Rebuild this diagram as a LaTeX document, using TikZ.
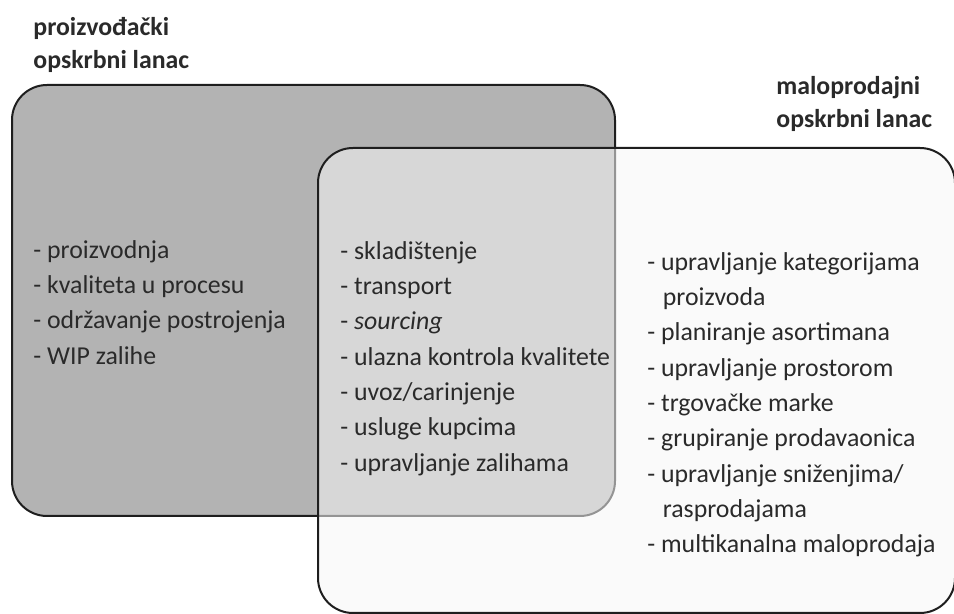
\documentclass[tikz,border=0pt]{standalone}
\usepackage{fontspec}
\setmainfont{Carlito}
\usetikzlibrary{positioning}

\definecolor{prodGray}{HTML}{B3B3B3}
\definecolor{retailGray}{HTML}{F6F6F6}
\definecolor{edgeGray}{HTML}{1E1E1E}
\definecolor{textGray}{HTML}{2A2A2A}

\begin{document}
\begin{tikzpicture}[
    x=0.5pt, y=-0.5pt,
    font=\fontsize{12.9}{17.65}\selectfont,
    chain/.style={
        draw=edgeGray,
        line width=1pt,
        rounded corners=17.5pt
    },
    production/.style={chain, fill=prodGray},
    retail/.style={chain, fill=retailGray, fill opacity=0.55},
    items/.style={
        text=textGray,
        align=left,
        anchor=north west,
        inner sep=0pt,
        execute at begin node={\rule{0pt}{10pt}}
    },
    title/.style={
        items,
        font=\fontsize{12.9}{16.5}\selectfont\bfseries
    }
]

\useasboundingbox (0,0) rectangle (954,614);

\draw[production] (12,85) rectangle (615,516);
\draw[retail] (318,148) rectangle (955,613);

\node[title] (prodTitle) at (33,17) {proizvođački\\opskrbni lanac};
\node[title] (retailTitle) at (776,76) {maloprodajni\\opskrbni lanac};

\node[items] (prodItems) at (33,240) {%
    - proizvodnja\\
    - kvaliteta u procesu\\
    - održavanje postrojenja\\
    - WIP zalihe};

\node[items] (sharedItems) at (340,241) {%
    - skladištenje\\
    - transport\\
    - \textit{sourcing}\\
    - ulazna kontrola kvalitete\\
    - uvoz/carinjenje\\
    - usluge kupcima\\
    - upravljanje zalihama};

\node[items] (retailItems) at (647,252) {%
    - upravljanje kategorijama\\
    \hspace*{0.6em}proizvoda\\
    - planiranje asortimana\\
    - upravljanje prostorom\\
    - trgovačke marke\\
    - grupiranje prodavaonica\\
    - upravljanje sniženjima/\\
    \hspace*{0.6em}rasprodajama\\
    - multikanalna maloprodaja};

\end{tikzpicture}
\end{document}
